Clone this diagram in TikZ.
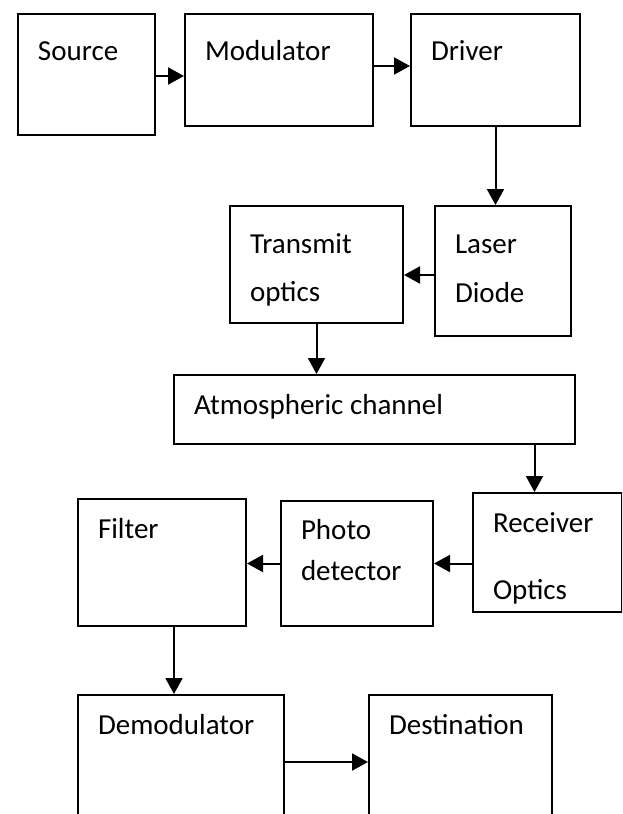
\documentclass[tikz,border=0pt]{standalone}
\usepackage{fontspec}
\setmainfont{Carlito}
\usetikzlibrary{arrows.meta}
\tikzset{
  blk/.style={draw, line width=2pt, inner sep=0pt, anchor=north west,
    font=\fontsize{29pt}{41pt}\selectfont},
}
% box text: width, height, first baseline, lines
\newcommand{\blktext}[4]{\parbox[t][#2][t]{#1}{\leftskip=20pt\rule{0pt}{#3}#4}}

\begin{document}
\begin{tikzpicture}[x=1pt, y=-1pt]
      \clip (0,0) rectangle (622,814);
      \draw
        (17,13) node[blk] (src){\blktext{137pt}{121pt}{46pt}{Source}}
        (184,13) node[blk] (mod){\blktext{188pt}{112pt}{46pt}{Modulator}}
        (410,13) node[blk] (drv){\blktext{169pt}{112pt}{46pt}{Driver}}
        (434,205) node[blk] (las){\blktext{136pt}{130pt}{47pt}{Laser\\[8pt]Diode}}
        (229,205) node[blk] (tx){\blktext{173pt}{117pt}{47pt}{Transmit\\[7pt]optics}}
        (173,374) node[blk] (atm){\blktext{401pt}{69pt}{39pt}{Atmospheric channel}}
        (472,492) node[blk] (rcv){\blktext{149pt}{119pt}{39pt}{Receiver\\[26pt]Optics}}
        (280,500) node[blk] (pd){\blktext{152pt}{125pt}{38pt}{Photo\\detector}}
        (77,498) node[blk] (flt){\blktext{168pt}{127pt}{39pt}{Filter}}
        (77,694) node[blk] (dem){\blktext{206pt}{140pt}{39pt}{Demodulator}}
        (368,694) node[blk] (dst){\blktext{183pt}{140pt}{39pt}{Destination}};
      \begin{scope}[line width=2pt, -{Triangle[length=16pt,width=17pt]}]
        \draw ([yshift=-1.5pt]src.east) to ([yshift=-1.5pt]src.east -| mod.west);
        \draw ([yshift=4pt]mod.east) to ([yshift=4pt]mod.east -| drv.west);
        \draw (drv.south) to (drv.south |- las.north);
        \draw ([yshift=-4pt]las.west) to ([yshift=-4pt]las.west -| tx.east);
        \draw (tx.south) to (tx.south |- atm.north);
        \draw ([xshift=-13pt]rcv.north |- atm.south) to ([xshift=-13pt]rcv.north);
        \draw (rcv.west |- pd.east) to (pd.east);
        \draw (pd.west) to (pd.west -| flt.east);
        \draw ([xshift=12pt]flt.south) to ([xshift=12pt]flt.south |- dem.north);
        \draw ([yshift=-68pt]dem.north east) to ([yshift=-68pt]dem.north east -| dst.west);
      \end{scope}
    \end{tikzpicture}
\end{document}
